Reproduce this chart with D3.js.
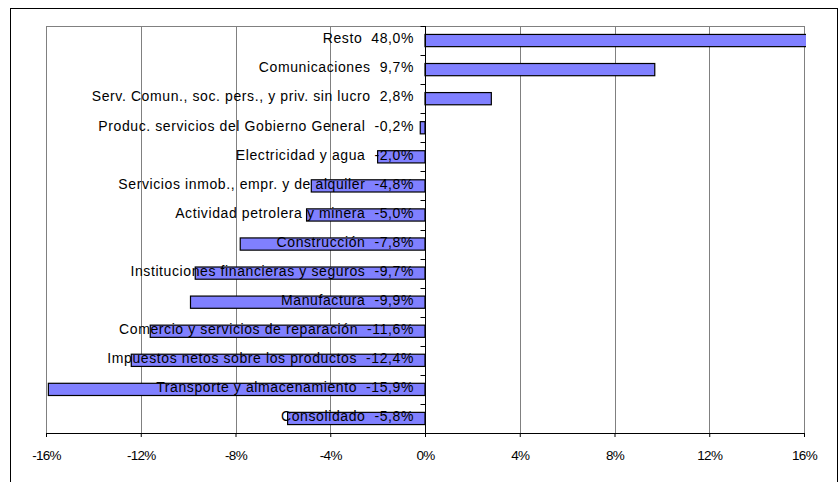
<!DOCTYPE html>
<html><head><meta charset="utf-8">
<script src="https://cdn.jsdelivr.net/npm/d3@7"></script>
<style>body{margin:0;background:#fff}svg{display:block}</style>
</head><body>
<svg id="c" width="840" height="482"></svg>
<script>
const categories = ["Resto","Comunicaciones","Serv. Comun., soc. pers., y priv. sin lucro","Produc. servicios del Gobierno General","Electricidad y agua","Servicios inmob., empr. y de alquiler","Actividad petrolera y minera","Construcción","Instituciones financieras y seguros","Manufactura","Comercio y servicios de reparación","Impuestos netos sobre los productos","Transporte y almacenamiento","Consolidado"];
const values = [48.0, 9.7, 2.8, -0.2, -2.0, -4.8, -5.0, -7.8, -9.7, -9.9, -11.6, -12.4, -15.9, -5.8];
const xTicks = [-16,-12,-8,-4,0,4,8,12,16];

const svg = d3.select("#c");
const L=46, R=804, T=26, B=433;
const x = d3.scaleLinear().domain([-16,16]).range([L,R]);
const y = d3.scaleBand().domain(categories).range([T,B]).paddingInner(0.58).paddingOuter(0.29);
const band = d3.scaleBand().domain(categories).range([T,B]);
const fmt = v => v.toFixed(1).replace(".",",") + "%";

// outer border
svg.append("rect").attr("x",10.5).attr("y",8.5).attr("width",827).attr("height",480).attr("fill","none").attr("stroke","#000").attr("stroke-width",1);

// gridlines
svg.append("g").selectAll("line").data(xTicks.filter(d=>d!==0)).join("line")
  .attr("x1",d=>Math.round(x(d))+0.5).attr("x2",d=>Math.round(x(d))+0.5).attr("y1",T).attr("y2",B)
  .attr("stroke","#808080").attr("stroke-width",1);
// plot top border
svg.append("line").attr("x1",L).attr("x2",R).attr("y1",T+0.5).attr("y2",T+0.5).attr("stroke","#808080");

// bars
svg.append("clipPath").attr("id","pc").append("rect").attr("x",L-2).attr("y",T).attr("width",R-L+4).attr("height",B-T);
svg.append("g").attr("clip-path","url(#pc)").selectAll("rect").data(values).join("rect")
  .attr("x",d=>x(Math.min(0,d)))
  .attr("width",d=>Math.abs(x(Math.min(16.15,d))-x(0)))
  .attr("y",(d,i)=>y(categories[i]))
  .attr("height",y.bandwidth())
  .attr("fill","#8080FF").attr("stroke","#000").attr("stroke-width",1.2);

// x axis
const xa = d3.axisBottom(x).tickValues(xTicks).tickSize(4).tickFormat(d=>d+"%");
const gx = svg.append("g").attr("transform",`translate(0,${B})`).call(xa);
gx.select(".domain").attr("stroke","#000");
gx.selectAll(".tick line").attr("stroke","#000");
gx.selectAll("text").attr("font-family","Liberation Sans, Arial, sans-serif").attr("font-size",13.5).attr("fill","#000").attr("y",22).attr("dy","0.35em").attr("letter-spacing","-0.7");

// zero axis with category ticks
const z = Math.round(x(0))+0.5;
svg.append("line").attr("x1",z).attr("x2",z).attr("y1",T).attr("y2",B).attr("stroke","#000");
const bounds = categories.map(c=>band(c)).concat([B]);
svg.append("g").selectAll("line").data(bounds).join("line")
  .attr("x1",z-5).attr("x2",z).attr("y1",d=>Math.round(d)+0.5).attr("y2",d=>Math.round(d)+0.5).attr("stroke","#000");

// labels
svg.append("g").selectAll("text").data(categories).join("text")
  .attr("x",414).attr("y",c=>band(c)+band.bandwidth()/2)
  .attr("dy","0.2em").attr("text-anchor","end")
  .attr("font-family","Liberation Sans, Arial, sans-serif").attr("font-size",14).attr("letter-spacing","0.6").attr("fill","#000")
  .attr("xml:space","preserve").style("white-space","pre")
  .text((c,i)=>c+"  "+fmt(values[i]));
</script>
</body></html>
